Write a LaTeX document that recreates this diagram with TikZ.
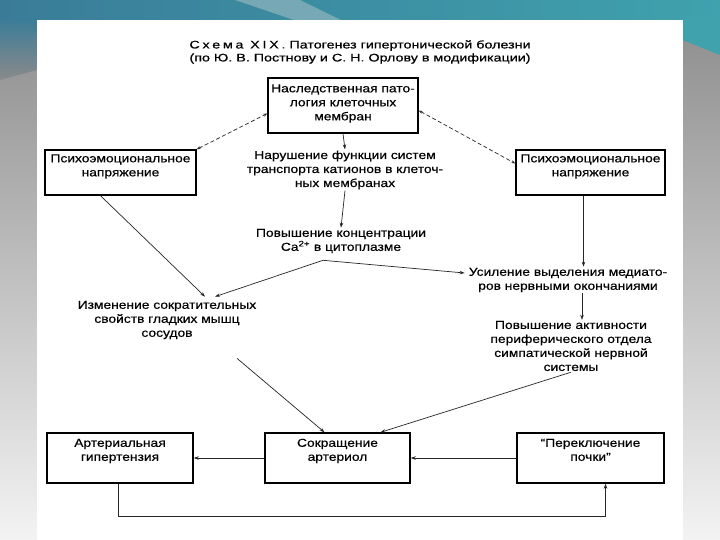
\documentclass[tikz,border=0pt]{standalone}
\usepackage{fontspec}
\setmainfont{Liberation Sans}[FakeStretch=1.2,FakeBold=0.5]
\newfontfamily\titlefont{Liberation Sans}[FakeStretch=1.3,FakeBold=0.7]
\usetikzlibrary{arrows.meta}
\definecolor{tealA}{HTML}{3A7C98}
\definecolor{tealB}{HTML}{3FA2AD}
\definecolor{swoosh}{HTML}{8FB6BE}
\definecolor{greyTop}{HTML}{8A8A8A}
\definecolor{greyBot}{HTML}{F3F3F3}
\newcommand\mybody{\fontsize{11.5}{14}\selectfont}
\newcommand\liftup[2]{\raisebox{#1}[\height][\depth]{\begin{tabular}{@{}c@{}}#2\end{tabular}}}
\begin{document}
\begin{tikzpicture}[x=1pt,y=-1pt,
  box/.style={draw=black, line width=1.4pt, align=center, inner sep=1pt, font=\mybody},
  txt/.style={align=center, inner sep=1pt, font=\mybody},
  arr/.style={-{Stealth[length=5pt,width=3.5pt]}, line width=0.7pt, draw=black!85},
  darr/.style={{Stealth[length=4pt,width=3pt]}-{Stealth[length=4pt,width=3pt]}, line width=0.7pt, draw=black!85, dash pattern=on 4pt off 2.5pt}]
\useasboundingbox (0,0) rectangle (720,540);
% background
\shade[top color=greyTop, bottom color=greyBot] (0,0) rectangle (720,540);
\shade[left color=tealA, right color=tealB] (0,0) rectangle (720,22);
\fill[swoosh, opacity=0.7] (235,0) -- (300,0) -- (345,22) -- (300,22) -- cycle;
\fill[tealB] (683,18) -- (720,14) -- (720,55) -- (683,40) -- cycle;
\shade[top color=tealA, bottom color=greyTop] (0,18) -- (37,20) -- (37,70) -- (0,80) -- cycle;
\fill[white] (37,20) rectangle (683,540);
% title
\node[align=center, inner sep=0pt, font=\titlefont\fontsize{11}{13}\selectfont] (title) at (360,52)
  {{\addfontfeatures{LetterSpace=25}Схема XIX.} Патогенез гипертонической болезни\\(по Ю. В. Постнову и С. Н. Орлову в модификации)};
% boxes
\node[box, minimum width=150, minimum height=55] (he) at (343,105.5)
  {\liftup{2pt}{Наследственная пато-\\логия клеточных\\мембран}};
\node[box, minimum width=151, minimum height=45] (psyL) at (120.5,172.5)
  {\liftup{6pt}{Психоэмоциональное\\напряжение}};
\node[box, minimum width=149, minimum height=45] (psyR) at (590.5,172.5)
  {\liftup{6pt}{Психоэмоциональное\\напряжение}};
\node[box, minimum width=146, minimum height=50] (art) at (120,458)
  {\liftup{7pt}{Артериальная\\гипертензия}};
\node[box, minimum width=145, minimum height=50] (sok) at (337.5,458)
  {\liftup{7pt}{Сокращение\\артериол}};
\node[box, minimum width=147, minimum height=50] (perekl) at (590.5,458)
  {\liftup{7pt}{“Переключение\\почки”}};
% texts
\node[txt] (narush) at (345,170) {Нарушение функции систем\\транспорта катионов в клеточ-\\ных мембранах};
\node[txt] (ca) at (341,241) {Повышение концентрации\\Ca\textsuperscript{2+} в цитоплазме};
\node[txt] (usil) at (568,280) {Усиление выделения медиато-\\ров нервными окончаниями};
\node[txt] (izm) at (167,320) {Изменение сократительных\\свойств гладких мышц\\сосудов};
\node[txt] (pov) at (571,346) {Повышение активности\\периферического отдела\\симпатической нервной\\системы};
% connectors
\draw[darr] (psyL.north east) -- ([yshift=-8pt]he.west);
\draw[darr] ([yshift=-5pt]he.east) -- ([yshift=9pt]psyR.west);
\draw[arr] (he.south) -- (narush.north);
\draw[arr] (narush.south) -- (ca.north);
\draw[arr] ([xshift=-18pt,yshift=-6pt]ca.south) -- ([xshift=48pt,yshift=3pt]izm.north);
\draw[arr] ([xshift=-18pt,yshift=-6pt]ca.south) -- ([xshift=-3pt,yshift=7pt]usil.west);
\draw[arr] ([xshift=-20pt]psyL.south) -- ([xshift=38pt,yshift=3pt]izm.north);
\draw[arr] ([xshift=-7pt]psyR.south) -- ([xshift=-7pt]psyR.south |- usil.north);
\draw[arr] ([xshift=14pt]usil.south) -- ([xshift=14pt]usil.south |- pov.north);
\draw[arr] (pov.south) -- ([xshift=43pt]sok.north);
\draw[arr] ([xshift=70pt,yshift=-18pt]izm.south) -- ([xshift=-13pt]sok.north);
\draw[arr] (sok.west) -- (art.east);
\draw[arr] (perekl.west) -- (sok.east);
\draw[arr] ([xshift=-2pt]art.south) -- ++(0,33) -| ([xshift=15pt]perekl.south);
\end{tikzpicture}
\end{document}
